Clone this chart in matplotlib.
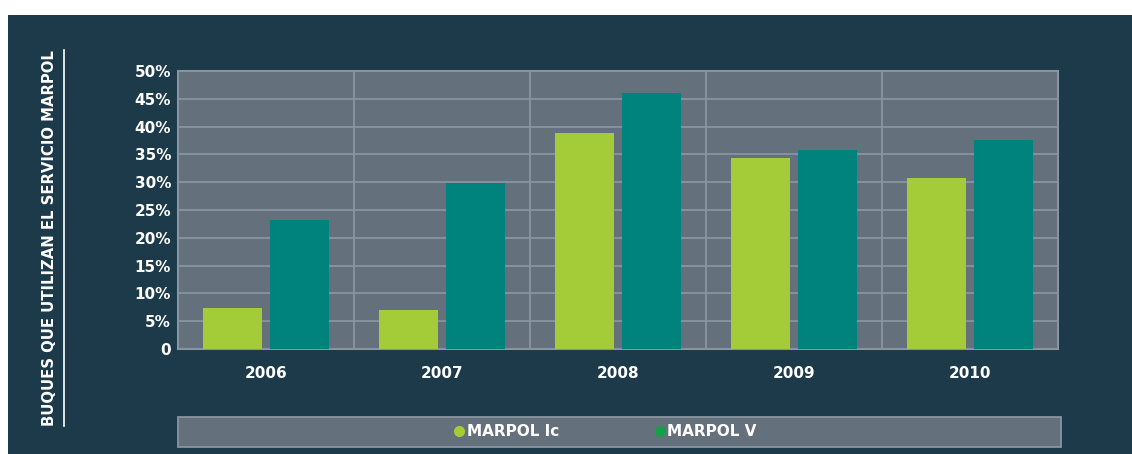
import numpy as np
import matplotlib.pyplot as plt
from matplotlib.patches import Rectangle
from matplotlib.lines import Line2D

# share of ships using the MARPOL reception service, per year

years = ['2006', '2007', '2008', '2009', '2010']
marpol_ic = [7.4, 7.0, 38.8, 34.4, 30.8]
marpol_v = [23.2, 29.9, 46.0, 35.8, 37.6]
yticks = [0, 5, 10, 15, 20, 25, 30, 35, 40, 45, 50]
ytick_labels = ['0'] + ['%d%%' % t for t in yticks[1:]]

panel = '#1c3a49'
plot_bg = '#64707c'
grid_c = '#8a949e'
lime = '#a4cc39'
teal = '#00827d'
font = dict(family='DejaVu Sans', fontweight='bold', color='white')

W, H = 1132, 454
fig = plt.figure(figsize=(W / 100, H / 100), dpi=100, facecolor='white')
fig.add_artist(Rectangle((8 / W, 0), 1 - 8 / W, 1 - 15 / H, transform=fig.transFigure,
                         facecolor=panel, edgecolor='none', zorder=-10))

ax = fig.add_axes([178 / W, 1 - 349 / H, (1058 - 178) / W, (349 - 71) / H])
ax.set_facecolor(plot_bg)

x = np.arange(len(years))
w = 0.34
off = 0.19
ax.bar(x - off, marpol_ic, width=w, color=lime, zorder=3)
ax.bar(x + off, marpol_v, width=w, color=teal, zorder=3)

ax.set_xlim(-0.5, len(years) - 0.5)
ax.set_ylim(0, 50)
ax.set_yticks(yticks)
ax.set_yticklabels(ytick_labels, fontsize=11, **font)
ax.set_xticks(x)
ax.set_xticklabels(years, fontsize=11, **font)
ax.tick_params(length=0, pad=5)
ax.tick_params(axis='x', pad=12)
ax.set_xticks(np.arange(len(years) + 1) - 0.5, minor=True)
ax.tick_params(which='minor', length=0)
ax.grid(axis='y', which='major', color=grid_c, lw=1.3, zorder=1)
ax.grid(axis='x', which='minor', color=grid_c, lw=1.3, zorder=1)
for s in ax.spines.values():
    s.set_color(grid_c)
    s.set_linewidth(1.5)

# y label with underline
fig.text(50 / W, 1 - 238 / H, 'BUQUES QUE UTILIZAN EL SERVICIO MARPOL', rotation=90,
         ha='center', va='center', fontsize=10.7, **font)
fig.add_artist(Line2D([64 / W, 64 / W], [1 - 426 / H, 1 - 50 / H], transform=fig.transFigure,
                      color='white', lw=1.2))

# legend box
fig.add_artist(Rectangle((178 / W, 1 - 447 / H), (1061 - 178) / W, 30 / H, transform=fig.transFigure,
                         facecolor=plot_bg, edgecolor=grid_c, lw=1.3))
handles = [Line2D([], [], marker='o', ls='none', color=lime, markersize=7),
           Line2D([], [], marker='o', ls='none', color='#14a047', markersize=7)]
leg = fig.legend(handles, ['MARPOL Ic', 'MARPOL V'], loc='center', bbox_to_anchor=(605.5 / W, 1 - 432 / H),
                 ncol=2, frameon=False, handlelength=0.6, handletextpad=0.2, columnspacing=6.3,
                 prop=dict(family='DejaVu Sans', weight='bold', size=11))
for t in leg.get_texts():
    t.set_color('white')

fig.savefig('out.png', dpi=100, facecolor='white')
